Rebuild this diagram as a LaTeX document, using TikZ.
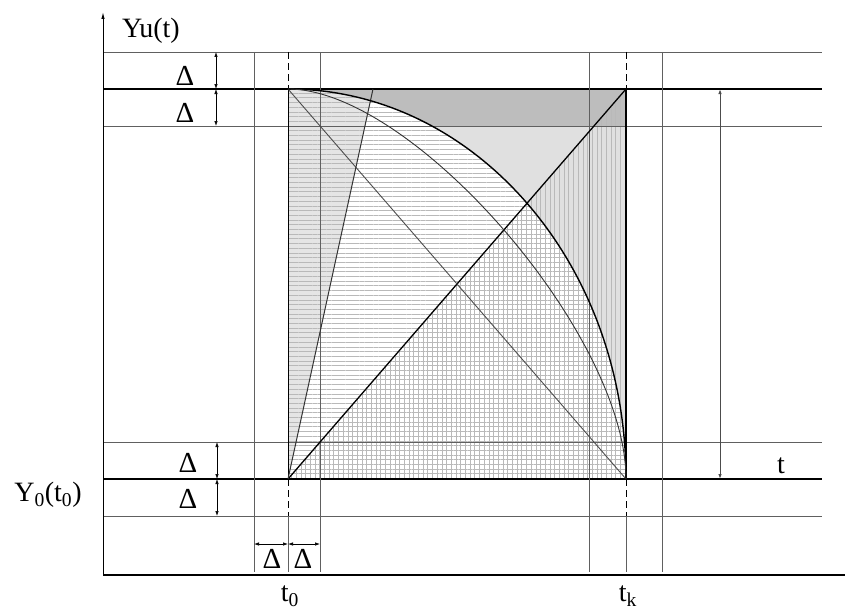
\documentclass[tikz,border=0pt]{standalone}
\usepackage{fontspec}
\setmainfont{Liberation Serif}
\usetikzlibrary{calc,arrows.meta,patterns.meta}

\begin{document}
\begin{tikzpicture}[x=1pt,y=-1pt,
  thinline/.style={gray!75!black, line width=0.8pt},
  boldline/.style={black, line width=1.6pt},
  dashline/.style={black, line width=0.9pt, dash pattern=on 7pt off 4pt},
  dim/.style={black, line width=0.7pt, {Latex[length=5pt,width=3.5pt]}-{Latex[length=5pt,width=3.5pt]}},
  lab/.style={font=\fontsize{28}{30}\selectfont, inner sep=0pt},
  dlab/.style={font=\fontsize{29}{30}\selectfont, inner sep=0pt}]
  \useasboundingbox (0,0) rectangle (853,610);

  % Corners of the band
  \coordinate (A) at (288,89);
  \coordinate (B) at (626,89);
  \coordinate (C) at (626,479);
  \coordinate (O) at (288,479);
  \coordinate (S) at (373,89);
  \coordinate (orig) at (103,575);

  % Shaded regions
  \fill[gray!20] (A) -- (S) -- (O) -- cycle;
  \fill[pattern={Lines[angle=0,distance=4.7pt,line width=0.5pt]}, pattern color=gray!55]
    (O) -- (A) .. controls (474.7,89) and (626,263.6) .. (C) -- cycle;
  \begin{scope}
    \clip (288,126) rectangle (626,479);
    \fill[gray!24] (A) .. controls (474.7,89) and (626,263.6) .. (C) -- (B) -- cycle;
  \end{scope}
  \begin{scope}
    \clip (288,89) rectangle (626,126);
    \fill[gray!52] (A) .. controls (474.7,89) and (626,263.6) .. (C) -- (B) -- cycle;
  \end{scope}
  \fill[pattern={Lines[angle=90,distance=4.7pt,line width=0.5pt]}, pattern color=gray!55]
    (O) -- (B) -- (C) -- cycle;

  % Horizontal lines
  \foreach \y in {52,126,442,516}
    \draw[thinline] (103,\y) -- (822,\y);
  \foreach \y in {89,479}
    \draw[boldline] (103,\y) -- (822,\y);

  % Vertical lines
  \foreach \x in {254,320,589,662}
    \draw[thinline] (\x,52) -- (\x,572);
  \foreach \x in {288,626} {
    \draw[dashline] (\x,52) -- (\x,89);
    \draw[dashline] (\x,479) -- (\x,516);
    \draw[thinline] (\x,516) -- (\x,572);
  }

  % Sides of the square
  \draw[black, line width=1pt] (A) -- (O);
  \draw[black, line width=2.4pt] (B) -- (C);

  % Straight lines
  \draw[black, line width=1.3pt] (O) -- (B);
  \draw[gray!60!black, line width=0.9pt] (A) -- (C);
  \draw[gray!40!black, line width=1pt] (O) -- (S);

  % Curves
  \draw[black, line width=1.4pt] (A) .. controls (474.7,89) and (626,263.6) .. (C);
  \draw[gray!40!black, line width=0.9pt] (A) .. controls (413,89) and (626,334.7) .. (C);

  % Axes
  \draw[line width=1.2pt] (orig) -- (845,575);
  \draw[line width=1pt, -{Latex[length=7pt,width=3.5pt]}] (orig) -- (103,12);

  % Dimensions
  \draw[dim] (216,52) -- (216,89);
  \draw[dim] (216,89) -- (216,126);
  \draw[dim] (217,442) -- (217,479);
  \draw[dim] (217,479) -- (217,516);
  \draw[dim] (254,544) -- (288,544);
  \draw[dim] (288,544) -- (320,544);
  \draw[dim, gray!60!black, line width=1pt] (720,89) -- (720,479);

  % Labels
  \node[lab] (yu) at (151,31) {Yu(t)};
  \node[lab] (y0) at (48,495) {Y\textsubscript{0}(t\textsubscript{0})};
  \node[lab] (t0) at (290,596) {t\textsubscript{0}};
  \node[lab] (tk) at (628,596) {t\textsubscript{k}};
  \node[lab] (tt) at (781,466) {t};
  \node[dlab] (d1) at (185,76) {Δ};
  \node[dlab] (d2) at (185,113) {Δ};
  \node[dlab] (d3) at (188,463) {Δ};
  \node[dlab] (d4) at (188,499) {Δ};
  \node[dlab] (d5) at (272,559) {Δ};
  \node[dlab] (d6) at (303,559) {Δ};
\end{tikzpicture}
\end{document}
